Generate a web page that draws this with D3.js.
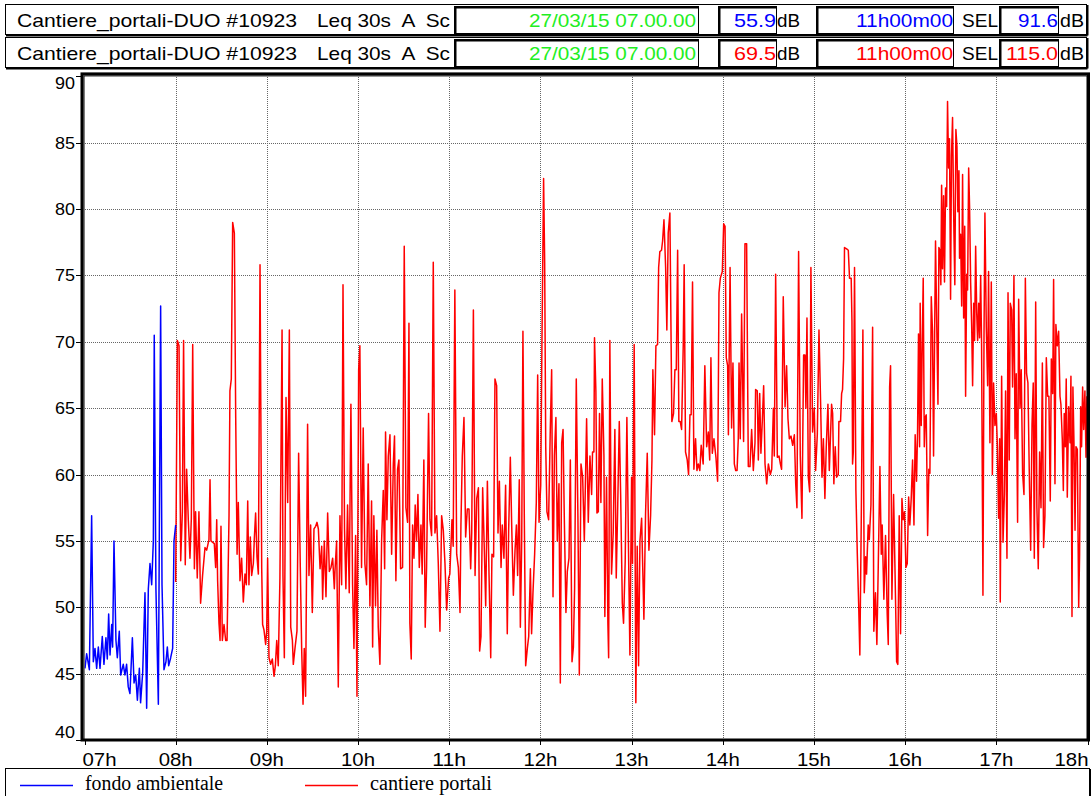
<!DOCTYPE html>
<html>
<head>
<meta charset="utf-8">
<script src="https://cdn.jsdelivr.net/npm/d3@7"></script>
<style>
body{margin:0;background:#fff;}
#chart svg{display:block;}
.hdrTxt{font-family:"Liberation Sans Narrow","Liberation Sans",Arial,sans-serif;font-size:19px;white-space:pre;}
.axTxt{font-family:"Liberation Sans Narrow","Liberation Sans",Arial,sans-serif;font-size:17px;fill:#000;}
.axTxtX{font-family:"Liberation Sans Narrow","Liberation Sans",Arial,sans-serif;font-size:19px;fill:#000;}
.lgTxt{font-family:"Liberation Serif","DejaVu Serif",serif;font-size:20px;fill:#000;}
.gridV line,.gridH line{stroke:#666;stroke-dasharray:1,1;shape-rendering:crispEdges;}
.gridV .domain,.gridH .domain{display:none;}
</style>
</head>
<body>
<div id="chart"></div>
<script>
// minutes after 07:00, Leq 30s dB(A)
var fondoSeries = [[0.3,45.4],[1.4,46.5],[3.2,45.3],[4.7,56.9],[5.8,45.9],[6.9,46.9],[8.0,45.4],[9.1,47.0],[10.2,45.4],[11.7,47.8],
  [12.8,45.7],[14.1,47.7],[15.0,46.1],[15.9,49.5],[16.8,46.4],[17.9,48.7],[18.5,47.0],[19.4,55.0],[20.7,47.5],[21.6,46.2],
  [22.9,48.2],[23.8,44.9],[25.5,45.7],[26.6,44.9],[27.7,45.7],[28.8,44.0],[29.9,43.5],[31.5,47.7],[32.6,44.3],[33.7,44.9],
  [34.8,43.0],[36.1,45.4],[36.9,42.8],[38.3,45.1],[39.8,51.1],[40.9,42.4],[42.0,51.4],[43.1,53.3],[44.2,51.7],[45.3,55.0],
  [45.9,70.5],[47.0,51.4],[48.6,42.7],[50.1,72.7],[51.0,51.7],[52.3,45.3],[53.6,45.9],[54.5,47.0],[55.4,45.6],[56.7,46.2],
  [58.0,46.9],[58.9,55.0],[60.0,56.2]];

var cantiereSeries = [[60.0,51.9],[61.1,70.1],[62.2,69.7],[63.3,53.5],[64.4,57.2],[65.2,70.1],[66.3,53.2],[67.2,60.4],[68.3,56.6],[69.4,53.7],
  [70.3,56.7],[71.2,69.8],[72.3,52.9],[73.1,57.2],[74.2,52.2],[75.3,57.2],[76.4,50.3],[77.7,52.4],[79.3,54.5],[80.4,54.3],
  [81.9,55.1],[82.6,59.6],[83.2,55.0],[85.4,54.8],[86.3,53.0],[87.0,56.6],[87.6,52.0],[88.5,48.8],[89.2,47.5],[89.8,56.1],
  [90.7,47.5],[91.8,48.7],[92.9,47.5],[93.8,47.5],[95.1,56.9],[95.7,66.3],[96.6,67.2],[97.5,79.0],[98.6,78.2],[99.5,64.3],
  [100.4,54.0],[101.2,57.9],[102.3,52.0],[103.4,53.7],[104.5,50.4],[105.6,52.5],[106.5,51.7],[107.4,58.0],[108.2,51.7],[109.1,55.3],
  [110.0,52.4],[111.1,53.3],[111.8,55.3],[112.6,57.1],[113.5,53.8],[114.4,52.5],[115.5,75.8],[116.6,53.0],[117.2,48.7],[118.1,48.3],
  [119.2,47.2],[119.9,48.2],[120.5,53.7],[121.4,46.2],[122.5,45.7],[123.6,46.1],[124.7,44.8],[125.6,45.6],[126.5,47.5],[127.5,45.6],
  [128.6,52.2],[130.0,70.9],[130.6,52.4],[131.5,46.2],[132.6,65.8],[133.7,57.9],[134.8,70.9],[135.7,48.5],[136.8,47.5],[137.4,45.7],
  [138.5,46.9],[139.8,48.2],[140.9,61.6],[142.0,53.0],[142.9,46.9],[143.8,42.7],[144.6,46.9],[145.5,43.3],[146.8,63.8],[147.7,52.4],
  [148.8,56.2],[149.9,49.6],[151.0,55.9],[152.1,56.1],[153.0,56.4],[153.9,55.9],[155.0,52.9],[156.1,54.6],[156.7,50.6],[157.8,55.0],
  [158.9,50.8],[160.0,57.1],[161.1,52.7],[162.2,53.0],[163.3,53.7],[164.4,51.4],[164.8,52.7],[165.9,55.0],[167.0,44.0],[168.1,56.9],
  [169.2,51.7],[170.1,74.3],[171.1,55.9],[172.0,51.4],[173.1,57.7],[174.2,51.1],[175.3,65.3],[176.4,51.7],[177.3,46.9],[178.4,55.4],
  [179.3,43.3],[180.4,67.9],[181.2,69.7],[182.3,53.0],[183.4,63.5],[184.5,53.3],[185.6,51.7],[186.7,60.8],[187.8,50.1],[188.9,58.0],
  [189.6,47.0],[190.4,56.9],[191.5,50.1],[192.4,55.8],[193.3,48.5],[194.4,45.7],[195.5,55.0],[196.6,58.8],[197.5,52.9],[198.1,63.2],
  [199.0,56.6],[199.9,61.4],[201.0,63.0],[202.1,54.0],[203.2,60.8],[204.0,62.9],[204.9,52.0],[206.0,60.4],[206.9,61.1],[208.0,52.9],
  [209.3,53.0],[210.4,77.2],[211.5,57.5],[212.6,56.4],[213.5,71.4],[214.1,48.8],[215.0,46.1],[215.9,56.2],[216.8,53.7],[217.6,57.7],
  [218.5,55.0],[219.4,58.5],[220.3,53.0],[221.4,56.2],[222.2,52.5],[223.3,61.1],[224.2,48.5],[225.1,53.0],[226.4,64.6],[227.3,56.6],
  [228.4,55.4],[229.5,76.0],[230.6,55.6],[231.7,56.9],[232.8,53.3],[233.9,48.2],[235.0,56.9],[236.1,55.8],[237.2,53.3],[238.3,49.8],
  [239.6,52.2],[240.4,52.5],[241.8,56.6],[242.6,54.6],[243.7,73.9],[244.9,54.0],[246.0,53.0],[247.1,49.6],[247.7,56.2],[248.6,61.4],
  [249.7,64.3],[250.8,55.3],[251.9,57.4],[253.0,57.4],[254.1,52.9],[254.8,55.6],[255.9,72.4],[257.0,52.4],[258.1,58.2],[259.2,59.0],
  [260.0,46.7],[260.9,47.8],[262.0,59.0],[263.1,54.3],[264.0,50.1],[265.1,59.5],[266.2,52.4],[267.3,46.2],[268.1,54.0],[269.2,53.8],
  [270.1,67.2],[271.2,66.7],[272.1,55.6],[273.0,59.5],[274.1,53.0],[274.9,56.2],[276.0,53.7],[277.1,59.2],[278.2,48.0],[279.1,55.8],
  [280.2,61.3],[281.1,56.2],[282.2,50.9],[283.3,54.3],[284.2,56.2],[285.0,52.4],[286.1,59.6],[286.8,48.5],[287.7,55.0],[288.5,70.8],
  [289.4,56.9],[290.3,45.6],[291.4,46.9],[292.3,47.8],[293.4,52.9],[294.2,48.0],[295.1,51.1],[296.2,54.0],[297.3,57.9],[298.2,67.5],
  [299.1,56.4],[300.2,59.2],[301.0,69.8],[302.1,82.3],[302.8,76.0],[303.5,62.1],[304.3,57.2],[305.4,56.6],[306.5,63.4],[307.4,67.9],
  [308.3,50.8],[309.2,61.4],[310.2,64.3],[311.1,55.0],[312.2,59.3],[313.1,44.3],[314.0,62.4],[314.9,63.4],[315.7,56.9],[316.8,49.6],
  [317.7,52.7],[318.8,53.7],[319.7,61.1],[320.8,45.9],[321.7,47.0],[322.5,51.4],[323.6,67.2],[324.7,56.6],[325.6,44.9],[326.7,60.8],
  [327.8,59.8],[328.9,55.0],[330.4,64.2],[331.5,56.4],[332.6,61.4],[333.7,58.5],[334.3,61.7],[335.2,61.7],[335.6,70.3],[336.5,66.3],
  [337.2,57.1],[338.1,57.2],[338.9,64.6],[339.8,57.9],[340.7,67.2],[341.8,61.4],[342.4,49.3],[343.5,59.8],[344.4,48.8],[344.9,46.2],
  [345.7,70.1],[346.8,52.5],[347.9,55.6],[349.0,63.4],[349.9,52.2],[350.8,57.2],[351.9,64.0],[352.8,58.5],[353.9,50.3],[354.7,48.8],
  [355.8,53.5],[356.9,64.3],[358.0,54.1],[358.9,46.4],[360.0,59.8],[360.6,53.3],[361.7,69.8],[362.8,42.8],[363.7,54.6],[364.6,45.6],
  [365.5,55.0],[366.6,56.7],[368.1,49.1],[369.2,57.1],[370.3,61.6],[371.4,54.3],[372.5,56.9],[373.4,61.1],[374.0,67.9],[375.1,63.0],
  [376.0,69.7],[377.1,69.8],[377.8,75.6],[378.6,76.8],[379.7,76.9],[380.4,77.6],[381.3,79.2],[382.4,75.6],[383.2,70.9],[384.1,78.2],
  [385.2,79.7],[386.5,64.0],[387.6,64.6],[388.5,67.9],[389.4,67.9],[390.3,76.9],[391.1,64.0],[392.0,64.0],[392.9,63.4],[394.0,69.8],
  [394.6,75.8],[395.5,61.7],[396.6,61.1],[397.5,60.0],[398.4,64.5],[399.2,64.5],[400.1,74.5],[401.0,60.4],[402.1,62.7],[403.0,60.3],
  [403.9,60.8],[404.9,60.3],[405.8,62.2],[407.1,60.8],[408.2,68.2],[409.4,62.1],[410.5,63.2],[411.4,61.1],[412.2,68.8],[413.1,61.6],
  [414.2,62.7],[415.5,61.3],[416.6,59.5],[417.1,66.6],[417.5,73.7],[418.4,74.8],[419.7,75.3],[420.6,78.9],[421.5,78.7],[422.3,68.8],
  [423.2,68.2],[423.7,63.0],[424.8,75.6],[425.8,63.5],[426.7,68.4],[427.6,60.8],[428.5,60.3],[429.4,60.3],[430.2,62.7],[430.7,68.4],
  [431.5,62.7],[432.4,72.1],[433.7,62.5],[434.6,77.4],[435.7,77.4],[436.8,60.6],[437.9,60.6],[439.0,63.4],[440.1,60.3],[441.2,62.4],
  [441.6,66.4],[442.7,66.3],[443.4,61.1],[444.3,66.1],[445.1,61.6],[446.0,64.0],[446.9,66.7],[447.8,60.8],[448.9,59.3],[450.0,60.8],
  [451.3,60.0],[452.2,60.4],[453.3,65.0],[453.9,61.4],[454.8,75.1],[455.9,61.3],[457.0,61.4],[457.9,60.8],[458.7,60.4],[459.8,73.4],
  [461.0,65.1],[462.0,68.2],[462.9,64.2],[463.8,62.7],[464.9,62.9],[466.0,62.2],[467.1,63.0],[468.0,59.3],[468.8,57.5],[469.9,76.8],
  [471.0,61.4],[472.1,56.7],[473.2,69.0],[474.1,69.0],[474.7,65.0],[475.4,71.8],[476.3,59.8],[477.2,58.7],[478.0,75.6],[479.1,63.2],
  [480.2,65.0],[481.1,60.3],[482.2,63.0],[483.3,70.9],[484.4,65.3],[485.3,59.8],[486.2,62.7],[487.2,58.2],[488.1,62.1],[489.2,65.3],
  [490.1,60.3],[491.6,65.3],[492.3,64.6],[493.1,59.3],[494.0,62.1],[494.9,59.8],[496.0,60.0],[496.4,64.0],[497.5,64.0],[498.2,66.1],
  [498.8,66.4],[499.5,68.7],[500.1,77.1],[501.5,77.0],[502.6,76.9],[503.4,74.8],[504.5,74.8],[505.0,71.6],[505.4,60.8],[505.9,61.7],
  [506.7,75.6],[507.6,58.8],[508.5,54.1],[509.4,50.3],[510.2,46.4],[511.1,56.2],[512.2,70.9],[513.1,51.1],[514.0,53.8],[514.6,52.5],
  [515.7,56.2],[516.4,55.1],[517.5,57.7],[518.6,71.1],[519.4,48.2],[520.5,51.1],[521.4,47.2],[522.3,53.0],[523.4,60.6],[524.3,54.0],
  [524.9,56.2],[526.0,50.6],[527.1,55.4],[528.2,49.5],[528.9,47.2],[529.8,66.6],[530.4,68.2],[531.3,50.6],[532.4,58.5],[533.3,53.0],
  [534.4,45.9],[535.2,45.7],[536.1,56.9],[537.0,48.0],[537.9,58.2],[538.7,56.6],[539.6,57.2],[540.5,53.0],[541.4,53.3],[542.3,58.3],
  [543.1,56.2],[544.0,58.2],[544.9,61.1],[545.8,56.2],[546.6,63.0],[547.5,59.5],[548.2,63.4],[548.8,70.6],[549.5,62.1],[549.9,72.9],
  [550.6,63.7],[551.2,69.3],[551.9,74.8],[552.6,62.1],[553.2,64.3],[553.9,64.5],[554.8,55.4],[555.6,60.4],[556.3,60.1],[557.2,73.4],
  [558.0,70.8],[558.7,61.4],[559.4,70.5],[560.0,77.6],[560.9,70.5],[561.6,65.3],[562.2,77.1],[562.9,76.9],[563.5,74.3],[564.0,81.8],
  [564.6,75.5],[565.3,81.0],[565.9,74.5],[566.6,81.6],[567.3,80.2],[567.9,88.1],[568.6,83.1],[569.2,85.3],[569.9,73.2],[570.5,84.0],
  [571.2,86.9],[572.1,78.2],[572.7,74.3],[573.4,86.0],[574.1,84.7],[574.7,79.8],[575.4,82.9],[575.8,76.3],[576.5,78.1],[577.2,72.7],
  [577.8,82.6],[578.5,71.8],[579.2,78.7],[579.8,65.9],[580.5,75.1],[581.1,73.9],[581.8,83.1],[582.4,80.2],[583.1,74.5],[583.8,71.1],
  [584.4,66.7],[585.1,72.9],[585.7,70.1],[586.4,77.2],[587.1,72.2],[587.7,70.1],[588.4,72.9],[589.0,70.3],[589.7,75.0],[590.3,69.8],
  [591.2,50.9],[591.9,70.5],[592.5,79.7],[593.4,71.1],[594.3,66.7],[594.9,75.3],[595.8,62.4],[596.7,74.5],[597.4,60.0],[598.2,66.9],
  [599.1,63.7],[600.0,64.6],[600.7,62.1],[601.5,56.7],[602.2,62.7],[602.6,50.4],[603.5,67.4],[604.4,54.9],[605.3,58.5],[606.1,66.3],
  [607.0,53.7],[607.7,73.7],[608.5,61.1],[609.2,72.9],[610.1,72.4],[610.7,66.6],[611.6,75.0],[612.3,62.7],[613.1,67.6],[614.0,56.4],
  [614.7,73.2],[615.6,65.0],[616.4,67.9],[617.3,60.1],[618.2,58.5],[619.1,74.8],[619.9,67.6],[620.8,66.9],[621.7,60.1],[622.6,54.3],
  [623.5,63.8],[624.3,66.9],[625.0,53.7],[625.9,73.0],[626.7,57.5],[627.6,52.9],[628.5,61.7],[629.4,57.5],[630.3,68.4],[631.1,54.5],
  [632.0,56.9],[632.9,68.8],[633.8,65.9],[634.6,65.9],[635.5,58.0],[636.2,68.7],[637.1,66.1],[637.7,74.7],[638.6,59.3],[639.2,71.3],
  [640.1,69.7],[641.0,70.8],[641.9,65.9],[642.5,65.3],[643.4,62.7],[644.1,58.8],[644.7,64.6],[645.4,62.1],[646.0,67.2],[646.7,58.3],
  [647.6,65.1],[648.5,62.4],[649.1,67.4],[649.8,49.3],[650.4,66.6],[651.1,62.4],[651.8,55.8],[652.4,62.1],[653.3,61.9],[654.2,50.0],
  [654.8,54.0],[655.5,65.1],[656.1,62.1],[656.8,66.6],[657.5,63.4],[658.3,66.3],[659.0,61.3],[659.6,65.9]];

var hourLabels = ["07h","08h","09h","10h","11h","12h","13h","14h","15h","16h","17h","18h"];
var dbTicks = [40,45,50,55,60,65,70,75,80,85,90];

var rowNames = ["Cantiere_portali-DUO #10923","Cantiere_portali-DUO #10923"];
var rowParam = ["Leq 30s  A  Sc","Leq 30s  A  Sc"];
var rowStart = ["27/03/15 07.00.00","27/03/15 07.00.00"];
var rowLeq = ["55.9","69.5"];
var rowDur = ["11h00m00","11h00m00"];
var rowSel = ["91.6","115.0"];
var rowColor = ["#0000ff","#ff0000"];
var legendNames = ["fondo ambientale","cantiere portali"];

(function () {
  'use strict'
  drawChart("chart");
})()

function drawChart(divIdStr){
	var W = 1091, H = 796;
	var svg = d3.select("#"+divIdStr).append("svg")
		.attr("width", W).attr("height", H);
	svg.append("rect").attr("width", W).attr("height", H).attr("fill", "#fff");

	// header rows
	for(var i = 0; i < rowNames.length; i++){
		drawHeaderRow(svg, 4 + i*33, i);
	}

	var plotL = 84.5, plotR = 1087.5, plotT = 76.4, plotB = 740;
	var x = d3.scaleLinear().domain([0, 660]).range([plotL, plotR]);
	var y = d3.scaleLinear().domain([40, 90]).range([plotB, plotT]);

	svg.append("clipPath").attr("id", "plotClip")
		.append("rect").attr("x", plotL).attr("y", plotT).attr("width", plotR-plotL).attr("height", plotB-plotT);

	// grid
	svg.append("g").attr("class", "gridV")
		.attr("transform", "translate(0,"+plotB+")")
		.call(d3.axisBottom(x).tickValues(d3.range(60, 660, 60)).tickSize(-(plotB-plotT)).tickFormat(""));
	svg.append("g").attr("class", "gridH")
		.attr("transform", "translate("+plotL+",0)")
		.call(d3.axisLeft(y).tickValues(dbTicks.slice(1, -1)).tickSize(-(plotR-plotL)).tickFormat(""));

	// series
	var line = d3.line()
		.x(function(d){ return x(d[0]); })
		.y(function(d){ return y(d[1]); });
	var gSeries = svg.append("g").attr("clip-path", "url(#plotClip)");
	gSeries.append("path").datum(cantiereSeries)
		.attr("d", line).attr("fill", "none").attr("stroke", "#ff0000").attr("stroke-width", 1.5).attr("stroke-linejoin", "round");
	gSeries.append("path").datum(fondoSeries)
		.attr("d", line).attr("fill", "none").attr("stroke", "#0000ff").attr("stroke-width", 1.5).attr("stroke-linejoin", "round");

	// frame
	svg.append("rect").attr("x", plotL-2.5).attr("y", plotT-2.5).attr("width", plotR-plotL+3.5).attr("height", plotB-plotT+2.5)
		.attr("fill", "none").attr("stroke", "#000").attr("stroke-width", 3);
	svg.append("rect").attr("x", plotL-0.5).attr("y", plotT-0.5).attr("width", plotR-plotL).attr("height", plotB-plotT)
		.attr("fill", "none").attr("stroke", "#000").attr("stroke-width", 1);

	// y axis
	var gy = svg.append("g");
	gy.selectAll("line").data(dbTicks).enter().append("line")
		.attr("x1", 76).attr("x2", plotL-3)
		.attr("y1", function(d){ return Math.round(y(d))+0.5; }).attr("y2", function(d){ return Math.round(y(d))+0.5; })
		.attr("stroke", "#000");
	gy.selectAll("text").data(dbTicks).enter().append("text")
		.attr("class", "axTxt").attr("text-anchor", "end")
		.attr("x", 75)
		.attr("y", function(d){
			if(d==90){ return y(d)+13; }
			if(d==40){ return y(d)-2; }
			return y(d)+6;
		})
		.attr("textLength", 20).attr("lengthAdjust", "spacingAndGlyphs")
		.text(function(d){ return d; });

	// x axis
	var gx = svg.append("g");
	gx.selectAll("line").data(hourLabels).enter().append("line")
		.attr("x1", function(d,i){ return Math.round(x(i*60))+0.5; })
		.attr("x2", function(d,i){ return Math.round(x(i*60))+0.5; })
		.attr("y1", plotB+1).attr("y2", plotB+5).attr("stroke", "#000");
	gx.selectAll("text").data(hourLabels).enter().append("text")
		.attr("class", "axTxtX")
		.attr("text-anchor", function(d,i){ return i==0 ? "start" : (i==hourLabels.length-1 ? "end" : "middle"); })
		.attr("x", function(d,i){ return i==0 ? x(0)-2 : (i==hourLabels.length-1 ? x(660)+1 : x(i*60)); })
		.attr("y", 766)
		.attr("textLength", 34).attr("lengthAdjust", "spacingAndGlyphs")
		.text(function(d){ return d; });

	// legend
	var gl = svg.append("g");
	raisedBox(gl, 5, 768, 1084, 30);
	var lgX = [20, 305];
	var lgTxtW = [138, 122];
	var lgCol = ["#0000ff", "#ff0000"];
	for(var k = 0; k < legendNames.length; k++){
		gl.append("line").attr("x1", lgX[k]).attr("x2", lgX[k]+53).attr("y1", 785.5).attr("y2", 785.5)
			.attr("stroke", lgCol[k]).attr("stroke-width", 1.5);
		gl.append("text").attr("class", "lgTxt").attr("x", lgX[k]+65).attr("y", 790)
			.attr("textLength", lgTxtW[k]).attr("lengthAdjust", "spacingAndGlyphs")
			.text(legendNames[k]);
	}
}

function raisedBox(g, bx, by, bw, bh){
	g.append("rect").attr("x", bx+0.5).attr("y", by+0.5).attr("width", bw).attr("height", bh)
		.attr("fill", "#fff").attr("stroke", "#000");
	g.append("line").attr("x1", bx+1).attr("x2", bx+bw+1.5).attr("y1", by+bh+1.5).attr("y2", by+bh+1.5).attr("stroke", "#000").attr("stroke-width", 2);
	g.append("line").attr("x1", bx+bw+1.5).attr("x2", bx+bw+1.5).attr("y1", by+1).attr("y2", by+bh+1.5).attr("stroke", "#000").attr("stroke-width", 2);
}

function sunkenBox(g, bx, by, bw, bh){
	g.append("rect").attr("x", bx+0.5).attr("y", by+0.5).attr("width", bw).attr("height", bh)
		.attr("fill", "#fff").attr("stroke", "#000");
	g.append("line").attr("x1", bx).attr("x2", bx+bw).attr("y1", by+1.5).attr("y2", by+1.5).attr("stroke", "#000").attr("stroke-width", 2);
	g.append("line").attr("x1", bx+1.5).attr("x2", bx+1.5).attr("y1", by).attr("y2", by+bh).attr("stroke", "#000").attr("stroke-width", 2);
}

function headerText(g, tx, ty, str, anchor, col, w){
	var t = g.append("text").attr("class", "hdrTxt")
		.attr("x", tx).attr("y", ty).attr("text-anchor", anchor).attr("fill", col)
		.attr("xml:space", "preserve")
		.text(str);
	if(w){ t.attr("textLength", w).attr("lengthAdjust", "spacingAndGlyphs"); }
	return t;
}

function drawHeaderRow(svg, top, idx){
	var g = svg.append("g");
	var col = rowColor[idx];
	var base = top + 23;
	raisedBox(g, 5, top, 1081, 30);

	headerText(g, 17, base, rowNames[idx], "start", "#000", 280);
	g.append("clipPath").attr("id", "parClip"+idx)
		.append("rect").attr("x", 310).attr("y", top).attr("width", 140).attr("height", 30);
	headerText(g, 317, base, rowParam[idx], "start", "#000", 133).attr("clip-path", "url(#parClip"+idx+")");

	sunkenBox(g, 454, top+2, 244, 27);
	headerText(g, 696, base, rowStart[idx], "end", "#22ee22", 167);

	sunkenBox(g, 718, top+2, 58, 27);
	headerText(g, 776, base, rowLeq[idx], "end", col, 42);
	headerText(g, 777, base, "dB", "start", "#000", 23);

	sunkenBox(g, 816, top+2, 137, 27);
	headerText(g, 953, base, rowDur[idx], "end", col, 97);
	headerText(g, 962, base, "SEL", "start", "#000", 36);

	sunkenBox(g, 999, top+2, 59, 27);
	headerText(g, 1058, base, rowSel[idx], "end", col, rowSel[idx].length > 4 ? 52 : 40);
	headerText(g, 1060, base, "dB", "start", "#000", 24);
}
</script>
</body>
</html>
